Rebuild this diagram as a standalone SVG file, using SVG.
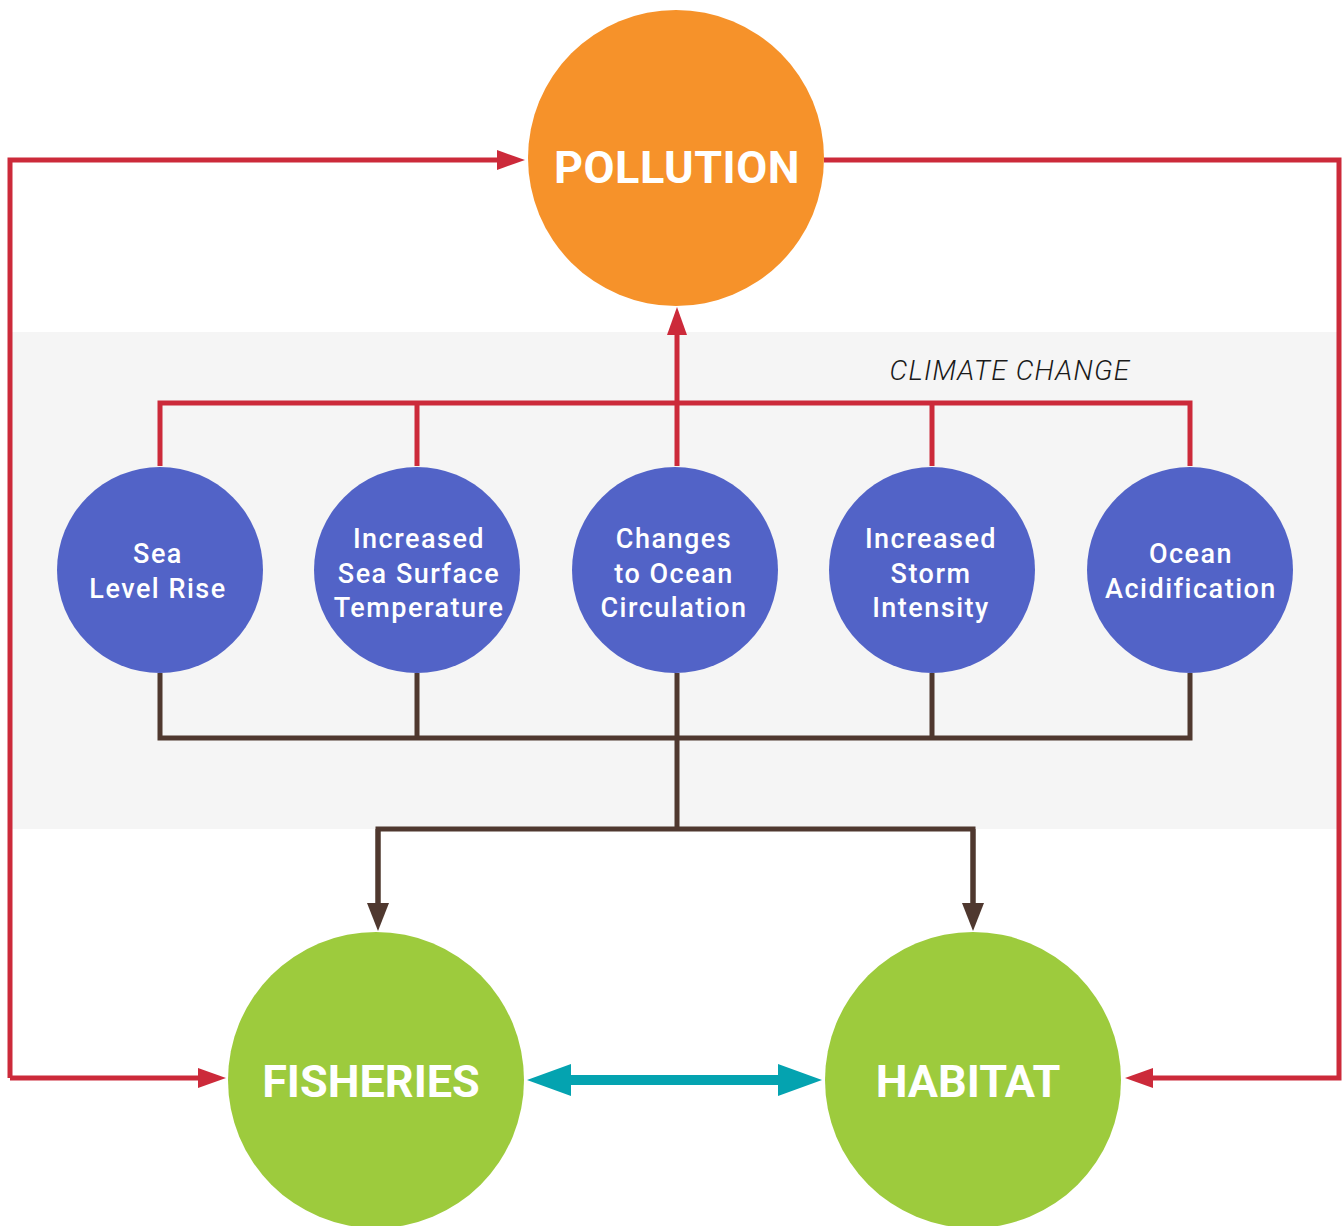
<svg xmlns="http://www.w3.org/2000/svg" width="1343" height="1226" viewBox="0 0 1343 1226">
<style>
.red{fill:none;stroke:#CC2A3A;stroke-width:5}
.brown{fill:none;stroke:#4F382F;stroke-width:5}
.big{font-family:Roboto,"Liberation Sans",sans-serif;font-weight:700;font-size:45px;fill:#fff;text-anchor:middle}
.small{font-family:Roboto,"Liberation Sans",sans-serif;font-weight:500;font-size:27px;fill:#fff;text-anchor:middle;letter-spacing:1.5px}
.blue{fill:#5263C7}
.green{fill:#9DCB3D}
</style>
<defs>
<marker id="ar" viewBox="0 0 28 20" refX="8" refY="10" markerWidth="28" markerHeight="20" markerUnits="userSpaceOnUse" orient="auto"><path d="M0,0L28,10L0,20Z" fill="#CC2A3A"/></marker>
<marker id="ab" viewBox="0 0 28 22" refX="8" refY="11" markerWidth="28" markerHeight="22" markerUnits="userSpaceOnUse" orient="auto"><path d="M0,0L28,11L0,22Z" fill="#4F382F"/></marker>
</defs>
<rect width="1343" height="1226" fill="#fff"/>
<rect x="12" y="332" width="1325" height="497" fill="#F5F5F5"/>
<text x="1010" y="380" font-family="Roboto,'Liberation Sans',sans-serif" font-style="italic" font-weight="300" font-size="28" letter-spacing="1.2" fill="#1a1a1a" text-anchor="middle">CLIMATE CHANGE</text>
<g id="connectors">
<path class="red" d="M10,1078V160H505" marker-end="url(#ar)"/>
<path class="red" d="M10,1078H206" marker-end="url(#ar)"/>
<path class="red" d="M824,160H1339V1078H1145" marker-end="url(#ar)"/>
<path class="red" d="M160,466V403H1190V466M417,403V466M932,403V466"/>
<path class="red" d="M677,466V327" marker-end="url(#ar)"/>
<path class="brown" d="M160,673V738H1190V673M417,673V738M932,673V738M677,673V829"/>
<path class="brown" d="M378,911V829H973V911"/>
<path class="brown" d="M378,829V911" marker-end="url(#ab)"/>
<path class="brown" d="M973,829V911" marker-end="url(#ab)"/>
<path d="M527,1080L571,1064V1075H778V1064L822,1080L778,1096V1085H571V1096Z" fill="#04A3B0"/>
</g>
<g id="pollution"><circle cx="676" cy="158" r="148" fill="#F6922A"/><text class="big" x="677" y="183" letter-spacing="0.5">POLLUTION</text></g>
<g id="sea-level-rise"><circle class="blue" cx="160" cy="570" r="103"/><text class="small" x="158" y="563">Sea</text><text class="small" x="158" y="598">Level Rise</text></g>
<g id="sea-surface-temperature"><circle class="blue" cx="417" cy="570" r="103"/><text class="small" x="419" y="548">Increased</text><text class="small" x="419" y="583">Sea Surface</text><text class="small" x="419" y="617">Temperature</text></g>
<g id="ocean-circulation"><circle class="blue" cx="675" cy="570" r="103"/><text class="small" x="674" y="548">Changes</text><text class="small" x="674" y="583">to Ocean</text><text class="small" x="674" y="617">Circulation</text></g>
<g id="storm-intensity"><circle class="blue" cx="932" cy="570" r="103"/><text class="small" x="931" y="548">Increased</text><text class="small" x="931" y="583">Storm</text><text class="small" x="931" y="617">Intensity</text></g>
<g id="ocean-acidification"><circle class="blue" cx="1190" cy="570" r="103"/><text class="small" x="1191" y="563">Ocean</text><text class="small" x="1191" y="598">Acidification</text></g>
<g id="fisheries"><circle class="green" cx="376" cy="1080" r="148"/><text class="big" x="371" y="1097">FISHERIES</text></g>
<g id="habitat"><circle class="green" cx="973" cy="1080" r="148"/><text class="big" x="968" y="1097">HABITAT</text></g>
</svg>
